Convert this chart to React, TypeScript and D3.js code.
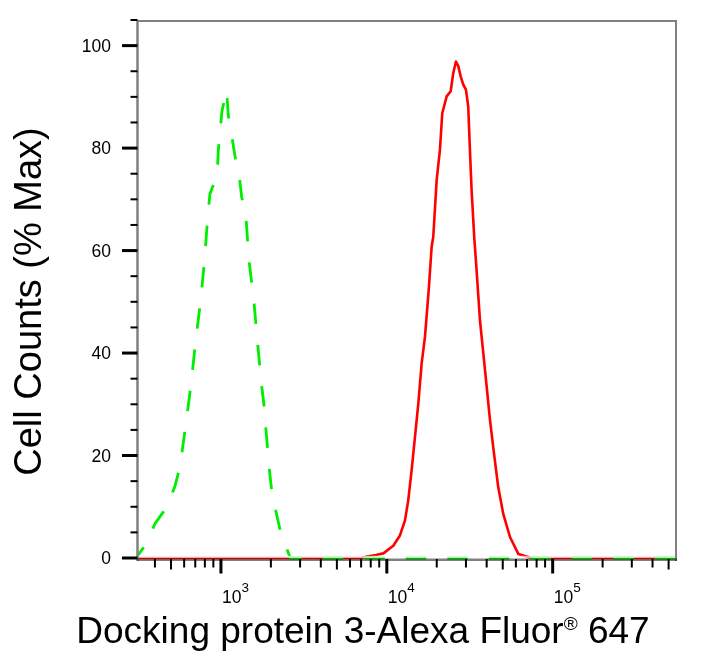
import * as d3 from "d3";

// control (isotype) histogram, green dashed
const controlIntensity = [314, 357, 400, 471, 528, 567, 613, 662, 703, 755, 798, 832, 859, 950, 963, 1014, 1082, 1107, 1160, 1214, 1289, 1333, 1415, 1475, 1581, 1664, 1758, 1823, 1861, 1956, 2022, 2138, 2290, 2512, 2620, 554000];
const controlCounts = [0.4, 2.9, 6.7, 9.9, 14, 17.9, 25.9, 34.2, 42.2, 50.3, 58.5, 66.6, 71.1, 74.8, 79.3, 87.2, 91.3, 86.5, 82.6, 78.5, 74.6, 70.5, 66.5, 58.2, 50, 41.9, 33.7, 29.5, 25.6, 17.4, 13.2, 9.3, 5, 1.5, 0, 0];

// stained sample histogram, red solid
const sampleIntensity = [314, 7000, 7600, 8600, 9530, 10940, 12000, 12860, 13460, 14110, 14780, 15480, 16220, 16990, 17950, 18640, 19060, 19980, 20910, 21590, 22950, 24270, 25170, 26120, 26970, 27880, 28900, 30000, 30970, 31700, 32450, 33640, 34770, 36440, 39080, 41890, 44280, 46980, 50370, 55290, 62050, 72990, 80000, 554000];
const sampleCounts = [0, 0, 0.3, 0.6, 0.9, 2.4, 4.4, 7.3, 11.2, 17.1, 23.6, 30.1, 38, 43.2, 52.9, 60.8, 62.7, 73.8, 79.7, 86.8, 90.1, 91.1, 94.7, 96.9, 96, 94, 92.4, 91.4, 88.1, 79.7, 71.8, 62.7, 56.2, 46.4, 36.7, 26.9, 20.4, 13.8, 8.6, 4.1, 0.8, 0.1, 0, 0];

const xDomain = [314, 554000];
const yDomain = [0, 105];
const yLabelTicks = [0, 20, 40, 60, 80, 100];
const xLabelTicks = [3, 4, 5];

const xTitle = "Docking protein 3-Alexa Fluor";
const xTitleTail = " 647";
const yTitle = "Cell Counts (% Max)";

const W = 705;
const H = 661;
const m = { left: 137.5, right: 676, top: 20, bottom: 558 };

export default function App() {
  const x = d3.scaleLog().domain(xDomain).range([m.left, m.right]);
  const y = d3.scaleLinear().domain(yDomain).range([m.bottom, m.top]);

  const line = d3
    .line<[number, number]>()
    .x((d) => x(d[0]))
    .y((d) => y(d[1]))
    .curve(d3.curveLinear);

  const control = line(controlIntensity.map((v, i) => [v, controlCounts[i]]) as [number, number][]);
  const sample = line(sampleIntensity.map((v, i) => [v, sampleCounts[i]]) as [number, number][]);

  const xTicks = x.ticks().filter((t) => t >= xDomain[0] && t <= xDomain[1]);
  const yTicks = d3.range(0, 106, 5);
  const font = "'Liberation Sans', Arial, Helvetica, sans-serif";

  return (
    <svg width={W} height={H} style={{ position: "absolute", left: 0, top: 0, background: "#fff" }} fontFamily={font}>
      <defs>
        <clipPath id="plot">
          <rect x={m.left} y={m.top} width={m.right - m.left} height={m.bottom - m.top + 4} />
        </clipPath>
      </defs>

      <g clipPath="url(#plot)">
        <path d={sample ?? ""} fill="none" stroke="#ff0000" strokeWidth={2.6} strokeLinejoin="round" />
        <path d={control ?? ""} fill="none" stroke="#00ee00" strokeWidth={2.8} strokeDasharray="20.5,21" strokeDashoffset={10} />
        <rect x={m.left} y={m.bottom - 2.2} width={m.right - m.left} height={2.2} fill="#fff" opacity={0.65} />
      </g>

      {/* frame */}
      <line x1={m.left} x2={m.left} y1={m.top} y2={m.bottom + 3} stroke="#808080" strokeWidth={2.5} />
      <line x1={m.left} x2={m.right} y1={m.top + 1} y2={m.top + 1} stroke="#808080" strokeWidth={2} />
      <line x1={m.right} x2={m.right} y1={m.top} y2={m.bottom + 3} stroke="#808080" strokeWidth={2} />
      <line x1={m.left} x2={m.right + 1} y1={m.bottom + 1.8} y2={m.bottom + 1.8} stroke="#808080" strokeWidth={2.4} style={{ mixBlendMode: "multiply" }} />

      {/* y ticks */}
      {yTicks.map((t) => {
        const major = t % 20 === 0;
        return (
          <line key={"y" + t} x1={major ? 122 : 130.5} x2={m.left} y1={y(t)} y2={y(t)} stroke="#000" strokeWidth={major ? 3 : 2} />
        );
      })}
      {yLabelTicks.map((t) => (
        <text key={"yl" + t} x={111} y={y(t) + 6.3} textAnchor="end" fontSize={17.5} fill="#000">
          {t}
        </text>
      ))}

      {/* x ticks */}
      {xTicks.map((t) => {
        const lg = Math.log10(t);
        const major = Math.abs(lg - Math.round(lg)) < 1e-9;
        const lead = Math.round(t / Math.pow(10, Math.floor(lg + 1e-9)));
        const len = major ? 14.5 : lead === 5 ? 10.5 : 8.5;
        return (
          <line key={"x" + t} x1={x(t)} x2={x(t)} y1={m.bottom + 1} y2={m.bottom + 1 + len} stroke="#000" strokeWidth={major ? 3 : 2} />
        );
      })}
      {xLabelTicks.map((p) => (
        <text key={"xl" + p} x={x(Math.pow(10, p)) + 1} y={603} fontSize={17.5} fill="#000">
          10
          <tspan fontSize={13.5} dy={-11.5}>
            {p}
          </tspan>
        </text>
      ))}

      {/* titles */}
      <text x={363} y={643} textAnchor="middle" fontSize={37} fill="#000">
        {xTitle}
        <tspan fontSize={19} dy={-13}>®</tspan>
        <tspan dy={13}>{xTitleTail}</tspan>
      </text>
      <text transform="translate(41,301.5) rotate(-90)" textAnchor="middle" fontSize={38} fill="#000">
        {yTitle}
      </text>
    </svg>
  );
}
